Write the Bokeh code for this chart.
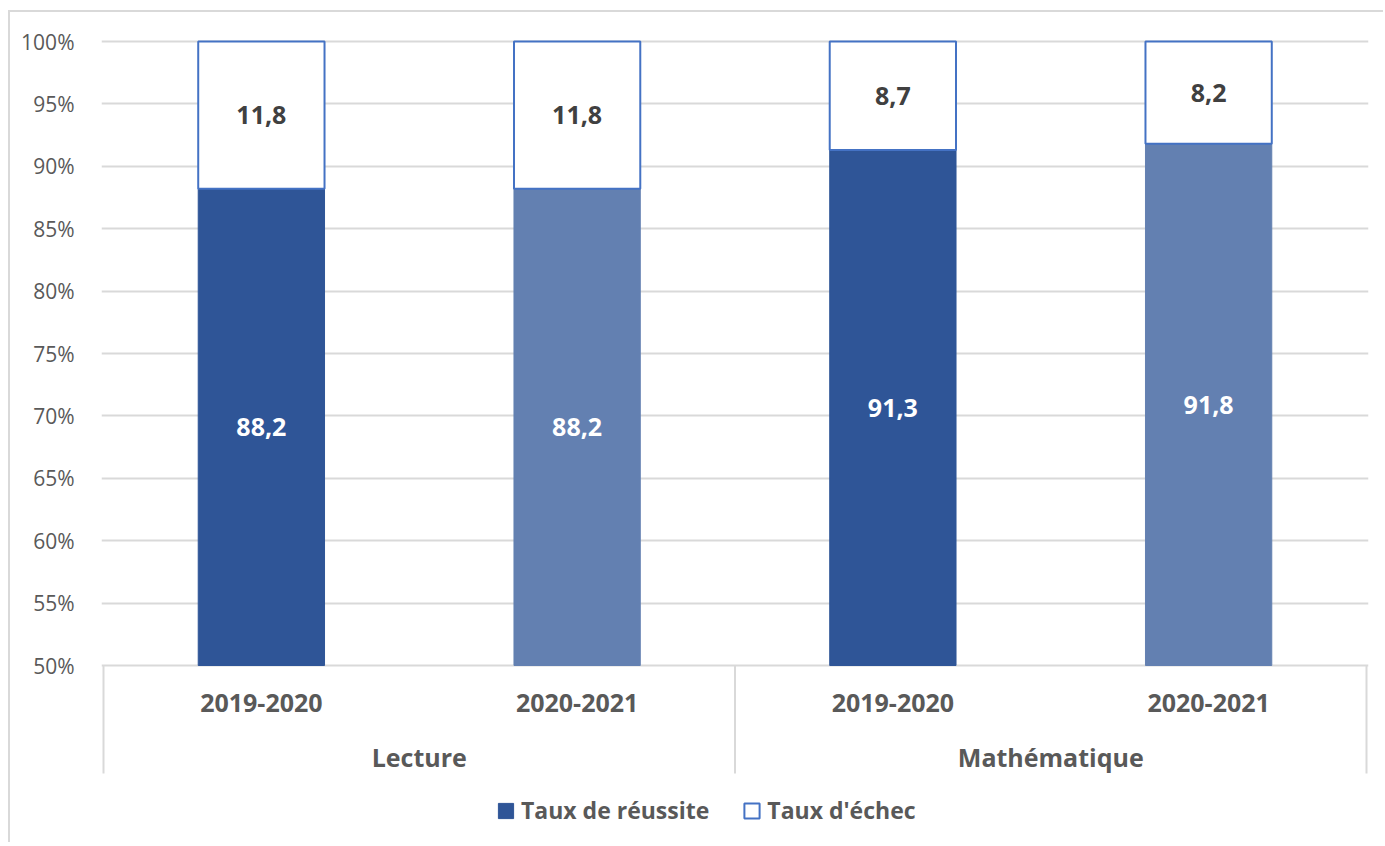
from bokeh.plotting import figure
from bokeh.models import ColumnDataSource, Range1d, FixedTicker, Legend, LegendItem
from bokeh.core.properties import value
from bokeh.embed import file_html
from bokeh.resources import INLINE

# ---- data ----
subjects = ["Lecture", "Lecture", "Mathématique", "Mathématique"]
years = ["2019-2020", "2020-2021", "2019-2020", "2020-2021"]
taux_reussite = [88.2, 88.2, 91.3, 91.8]
taux_echec = [11.8, 11.8, 8.7, 8.2]
y_ticks = [50, 55, 60, 65, 70, 75, 80, 85, 90, 95, 100]
y_tick_labels = ["50%", "55%", "60%", "65%", "70%", "75%", "80%", "85%", "90%", "95%", "100%"]
series_names = ["Taux de réussite", "Taux d'échec"]

# ---- styles ----
bar_colors = ["#2F5597", "#6380B1", "#2F5597", "#6380B1"]
FONT_NAME = "Open Sans"
FONT = value(FONT_NAME)
Y_MIN = 50

def fmt(v):
    return f"{v:.1f}".replace(".", ",")

n = len(years)
xs = [i + 0.5 for i in range(n)]
src = ColumnDataSource(dict(
    x=xs,
    bottom=[Y_MIN] * n,
    top=taux_reussite,
    top2=[r + e for r, e in zip(taux_reussite, taux_echec)],
    color=bar_colors,
    lab_r=[fmt(v) for v in taux_reussite],
    lab_e=[fmt(v) for v in taux_echec],
    y_r=[(Y_MIN + r) / 2 for r in taux_reussite],
    y_e=[r + e / 2 for r, e in zip(taux_reussite, taux_echec)],
    year=years,
))

PX = 12.48  # pixels per percentage point
p = figure(
    width=1375, height=832,
    output_backend="svg", toolbar_location=None,
    x_range=Range1d(-2 / 315.75, 4 + 2 / 315.75),
    y_range=Range1d(50 - 179 / PX, 100 + 2 / PX),
    x_axis_location=None,
    min_border_left=91, min_border_right=17, min_border_top=27, min_border_bottom=0,
    outline_line_color=None,
    styles={"border-top": "2px solid #D9D9D9", "border-left": "2px solid #D9D9D9",
            "margin-left": "8px", "margin-top": "10px"},
)

# axis / grid
p.yaxis.ticker = FixedTicker(ticks=y_ticks)
p.yaxis.major_label_overrides = {t: l for t, l in zip(y_ticks, y_tick_labels)}
p.yaxis.axis_line_color = None
p.yaxis.major_tick_line_color = None
p.yaxis.minor_tick_line_color = None
p.yaxis.major_label_text_font = FONT_NAME
p.yaxis.major_label_text_font_size = "21px"
p.yaxis.major_label_text_color = "#595959"
p.yaxis.major_label_standoff = 21
p.xgrid.grid_line_color = None
p.ygrid.grid_line_color = "#D9D9D9"
p.ygrid.grid_line_width = 2

# bars
r1 = p.vbar(x="x", width=0.4, bottom="bottom", top="top", source=src,
            fill_color="color", line_color="color", line_width=1)
r2 = p.vbar(x="x", width=0.4, bottom="top", top="top2", source=src,
            fill_color="white", line_color="#4472C4", line_width=2)

# data labels
p.text(x="x", y="y_r", text="lab_r", source=src, text_align="center", text_baseline="middle",
       text_font=FONT, text_font_style="bold", text_font_size="25px", text_color="white")
p.text(x="x", y="y_e", text="lab_e", source=src, text_align="center", text_baseline="middle",
       text_font=FONT, text_font_style="bold", text_font_size="25px", text_color="#404040")

# category labels (years)
p.text(x="x", y=50 - 37 / PX, text="year", source=src, text_align="center",
       text_baseline="middle", text_font=FONT, text_font_style="bold",
       text_font_size="25px", text_color="#595959")

# group labels & separators
groups = []
for s in subjects:
    if s not in groups:
        groups.append(s)
bounds = [0]
gx = []
for g in groups:
    cnt = subjects.count(g)
    gx.append(bounds[-1] + cnt / 2)
    bounds.append(bounds[-1] + cnt)
p.text(x=gx, y=[50 - 91 / PX] * len(groups), text=groups, text_align="center",
       text_baseline="middle", text_font=FONT, text_font_style="bold",
       text_font_size="25px", text_color="#595959")
p.segment(x0=bounds, y0=[Y_MIN] * len(bounds), x1=bounds, y1=[50 - 108 / PX] * len(bounds),
          line_color="#D9D9D9", line_width=2)

legend = Legend(
    items=[LegendItem(label=series_names[0], renderers=[r1], index=0),
           LegendItem(label=series_names[1], renderers=[r2])],
    orientation="horizontal", location=(395, 18),
    background_fill_alpha=0, border_line_color=None,
    label_text_font=FONT_NAME, label_text_font_style="bold", label_text_font_size="23px",
    label_text_color="#595959", glyph_width=19, glyph_height=19,
    padding=0, margin=0, spacing=33, label_standoff=6,
)
p.add_layout(legend)

open("out.html", "w").write(file_html(p, INLINE))
